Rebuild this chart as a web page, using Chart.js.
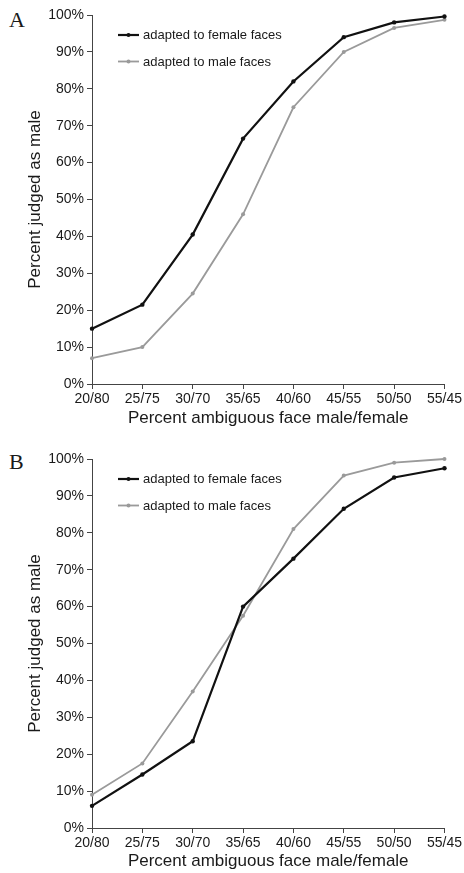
<!DOCTYPE html>
<html>
<head>
<meta charset="utf-8">
<script src="https://cdn.jsdelivr.net/npm/chart.js@4.4.0/dist/chart.umd.min.js"></script>
<style>
  html, body { margin: 0; padding: 0; background: #fff; }
  body { width: 464px; height: 873px; position: relative; overflow: hidden; }
  canvas { position: absolute; left: 0; }
  .panel { position: absolute; font-family: "Liberation Serif", "DejaVu Serif", serif; font-size: 22px; color: #1a1a1a; line-height: 1; }
</style>
</head>
<body>
<div class="panel" style="left:9px; top:9px;">A</div>
<div class="panel" style="left:9px; top:451px;">B</div>
<canvas id="chartA" width="464" height="436" style="top:0px;"></canvas>
<canvas id="chartB" width="464" height="429" style="top:444px;"></canvas>
<script>
const categories = ['20/80', '25/75', '30/70', '35/65', '40/60', '45/55', '50/50', '55/45'];
const yTicks = [0, 10, 20, 30, 40, 50, 60, 70, 80, 90, 100];

const seriesNames = ['adapted to female faces', 'adapted to male faces'];

const panelA_female = [15, 21.5, 40.5, 66.5, 82, 94, 98, 99.6];
const panelA_male   = [7, 10, 24.5, 46, 75, 90, 96.5, 98.7];

const panelB_female = [6, 14.5, 23.5, 60, 73, 86.5, 95, 97.5];
const panelB_male   = [9, 17.5, 37, 57.5, 81, 95.5, 99, 100];

const xTitle = 'Percent ambiguous face male/female';
const yTitle = 'Percent judged as male';

const FONT = '"Liberation Sans", Arial, sans-serif';
const TEXT = '#1a1a1a';
const AXIS = '#444';
const BLACK = '#111';
const GRAY = '#9a9a9a';

const insideLegend = {
  id: 'insideLegend',
  afterDatasetsDraw(chart) {
    const ctx = chart.ctx;
    const a = chart.chartArea;
    ctx.save();
    chart.data.datasets.forEach((ds, i) => {
      const y = a.top + 20 + i * 26.5;
      const x0 = a.left + 26, x1 = a.left + 47;
      ctx.strokeStyle = ds.borderColor;
      ctx.lineWidth = ds.borderWidth;
      ctx.beginPath(); ctx.moveTo(x0, y); ctx.lineTo(x1, y); ctx.stroke();
      ctx.fillStyle = ds.borderColor;
      ctx.beginPath(); ctx.arc((x0 + x1) / 2, y, 2, 0, Math.PI * 2); ctx.fill();
      ctx.fillStyle = TEXT;
      ctx.font = '13px ' + FONT;
      ctx.textBaseline = 'middle';
      ctx.textAlign = 'left';
      ctx.fillText(ds.label, a.left + 51, y + 0.5);
    });
    ctx.restore();
  }
};

function makeChart(id, female, male, xScaleHeight, xTitlePadBottom) {
  return new Chart(document.getElementById(id), {
    type: 'line',
    data: {
      labels: categories,
      datasets: [
        { label: seriesNames[0], data: female, borderColor: BLACK, backgroundColor: BLACK, clip: false,
          borderWidth: 2.2, pointRadius: 2.2, pointBackgroundColor: BLACK, pointBorderWidth: 0, tension: 0 },
        { label: seriesNames[1], data: male, borderColor: GRAY, backgroundColor: GRAY, clip: false,
          borderWidth: 1.8, pointRadius: 2, pointBackgroundColor: GRAY, pointBorderWidth: 0, tension: 0 }
      ]
    },
    options: {
      responsive: false,
      animation: false,
      layout: { padding: { top: 15, right: 19, left: 0, bottom: 0 } },
      plugins: { legend: { display: false }, tooltip: { enabled: false } },
      scales: {
        x: {
          type: 'category',
          offset: false,
          afterFit: s => { s.height = xScaleHeight; },
          grid: { display: true, drawOnChartArea: false, drawTicks: true, tickLength: 5, color: AXIS, offset: false },
          border: { display: true, color: AXIS, width: 1 },
          ticks: { color: TEXT, font: { family: FONT, size: 14 }, padding: 2, maxRotation: 0, autoSkip: false },
          title: { display: true, text: xTitle, color: TEXT, font: { family: FONT, size: 17 }, padding: { top: 0, bottom: xTitlePadBottom } }
        },
        y: {
          min: 0, max: 100,
          afterFit: s => { s.width = 92; },
          afterBuildTicks: s => { s.ticks = yTicks.map(v => ({ value: v })); },
          grid: { display: true, drawOnChartArea: false, drawTicks: true, tickLength: 5, color: AXIS },
          border: { display: true, color: AXIS, width: 1 },
          ticks: { color: TEXT, font: { family: FONT, size: 14 }, padding: 3, callback: v => v + '%' },
          title: { display: true, text: yTitle, color: TEXT, font: { family: FONT, size: 17 }, padding: { top: 25, bottom: 0 } }
        }
      }
    },
    plugins: [insideLegend]
  });
}

makeChart('chartA', panelA_female, panelA_male, 52, 7);
makeChart('chartB', panelB_female, panelB_male, 45, 1);
</script>
</body>
</html>
